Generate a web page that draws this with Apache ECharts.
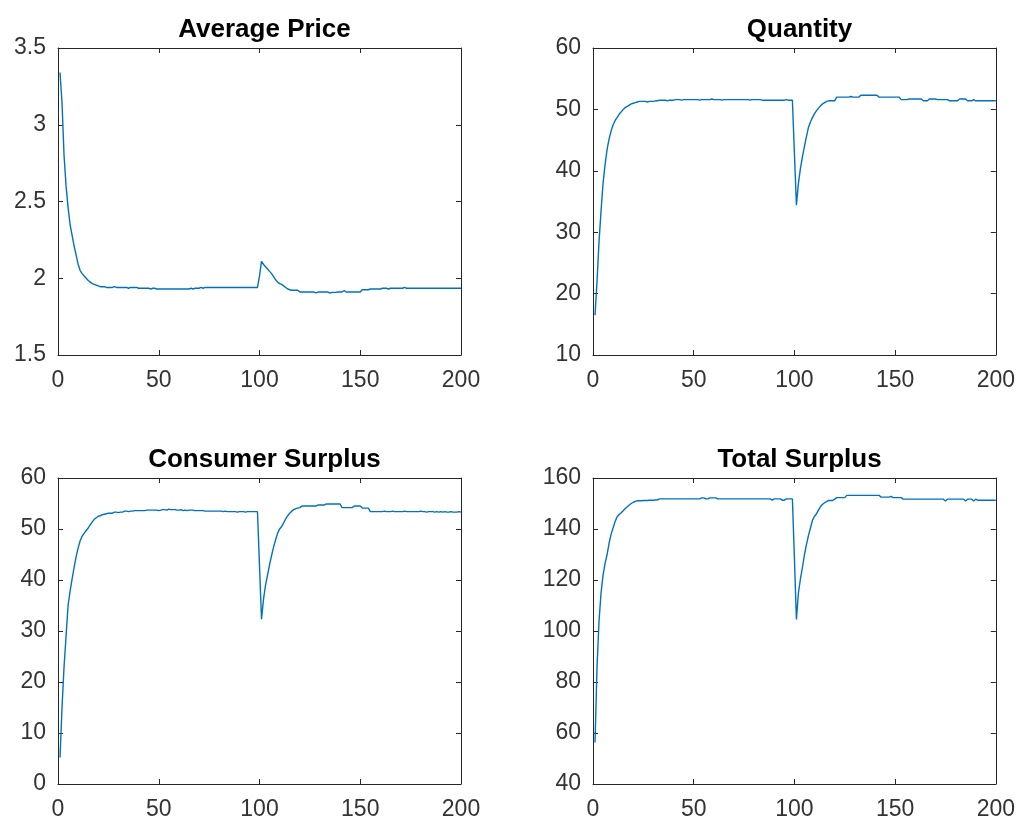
<!DOCTYPE html>
<html>
<head>
<meta charset="utf-8">
<title>Market simulation</title>
<script src="https://cdn.jsdelivr.net/npm/echarts@6.0.0/dist/echarts.min.js"></script>
<style>
  html, body { margin: 0; padding: 0; background: #ffffff; }
  #chart { width: 1018px; height: 821px; }
</style>
</head>
<body>
<div id="chart"></div>
<script>
// Simulated market outcomes over 200 periods, with a shock at period 100.
const panelTitles = ['Average Price', 'Quantity', 'Consumer Surplus', 'Total Surplus'];

const priceValues = [
  3.34, 3.14, 2.80, 2.60, 2.46, 2.35, 2.28, 2.21, 2.15, 2.09,
  2.05, 2.03, 2.015, 2.00, 1.985, 1.975, 1.965, 1.96, 1.955, 1.95,
  1.945, 1.945, 1.945, 1.94, 1.94, 1.94, 1.94, 1.945, 1.94, 1.94,
  1.94, 1.94, 1.94, 1.94, 1.935, 1.94, 1.94, 1.94, 1.94, 1.935,
  1.935, 1.935, 1.935, 1.935, 1.935, 1.93, 1.935, 1.935, 1.93, 1.93,
  1.93, 1.93, 1.93, 1.93, 1.93, 1.93, 1.93, 1.93, 1.93, 1.93,
  1.93, 1.93, 1.93, 1.93, 1.93, 1.935, 1.93, 1.935, 1.935, 1.935,
  1.94, 1.935, 1.94, 1.94, 1.94, 1.94, 1.94, 1.94, 1.94, 1.94,
  1.94, 1.94, 1.94, 1.94, 1.94, 1.94, 1.94, 1.94, 1.94, 1.94,
  1.94, 1.94, 1.94, 1.94, 1.94, 1.94, 1.94, 1.94, 1.94, 2.015,
  2.11, 2.09, 2.075, 2.06, 2.045, 2.03, 2.01, 1.99, 1.975, 1.965,
  1.96, 1.95, 1.94, 1.93, 1.925, 1.922, 1.922, 1.922, 1.922, 1.91,
  1.91, 1.91, 1.91, 1.91, 1.91, 1.91, 1.91, 1.905, 1.91, 1.91,
  1.91, 1.91, 1.91, 1.91, 1.903, 1.908, 1.908, 1.908, 1.91, 1.91,
  1.91, 1.92, 1.91, 1.91, 1.91, 1.91, 1.91, 1.91, 1.91, 1.91,
  1.925, 1.925, 1.925, 1.925, 1.93, 1.93, 1.93, 1.93, 1.93, 1.93,
  1.935, 1.935, 1.935, 1.93, 1.935, 1.935, 1.935, 1.935, 1.935, 1.935,
  1.935, 1.94, 1.935, 1.935, 1.935, 1.935, 1.935, 1.935, 1.935, 1.935,
  1.935, 1.935, 1.935, 1.935, 1.935, 1.935, 1.935, 1.935, 1.935, 1.935,
  1.935, 1.935, 1.935, 1.935, 1.935, 1.935, 1.935, 1.935, 1.935, 1.935
];

const quantityValues = [
  16.5, 22.0, 28.5, 33.5, 38.0, 41.0, 43.5, 45.2, 46.5, 47.5,
  48.2, 48.7, 49.2, 49.6, 50.0, 50.3, 50.5, 50.7, 50.9, 51.0,
  51.1, 51.2, 51.3, 51.3, 51.3, 51.3, 51.2, 51.3, 51.3, 51.3,
  51.4, 51.4, 51.5, 51.5, 51.5, 51.5, 51.4, 51.5, 51.5, 51.5,
  51.6, 51.6, 51.6, 51.5, 51.6, 51.6, 51.6, 51.6, 51.6, 51.6,
  51.6, 51.6, 51.5, 51.6, 51.6, 51.6, 51.6, 51.6, 51.7, 51.6,
  51.6, 51.6, 51.6, 51.5, 51.6, 51.6, 51.6, 51.6, 51.6, 51.6,
  51.6, 51.6, 51.6, 51.6, 51.6, 51.6, 51.6, 51.5, 51.6, 51.6,
  51.6, 51.6, 51.6, 51.5, 51.5, 51.5, 51.5, 51.5, 51.5, 51.5,
  51.5, 51.5, 51.5, 51.5, 51.5, 51.6, 51.5, 51.5, 51.5, 42.9,
  34.4, 38.0, 40.4, 42.3, 44.0, 45.6, 47.1, 48.0, 48.7, 49.3,
  49.8, 50.2, 50.6, 50.9, 51.1, 51.3, 51.4, 51.4, 51.4, 51.4,
  52.0, 52.0, 52.0, 52.0, 52.0, 52.0, 52.0, 52.1, 52.0, 52.0,
  52.0, 52.0, 52.3, 52.3, 52.3, 52.3, 52.3, 52.3, 52.3, 52.3,
  52.3, 52.0, 52.0, 52.0, 52.0, 52.0, 52.0, 52.0, 52.0, 52.0,
  52.0, 52.0, 51.6, 51.6, 51.6, 51.6, 51.7, 51.7, 51.7, 51.7,
  51.7, 51.7, 51.7, 51.4, 51.4, 51.4, 51.7, 51.7, 51.7, 51.7,
  51.6, 51.6, 51.6, 51.6, 51.6, 51.6, 51.4, 51.4, 51.4, 51.4,
  51.4, 51.7, 51.7, 51.7, 51.7, 51.4, 51.4, 51.4, 51.6, 51.4,
  51.4, 51.4, 51.4, 51.4, 51.4, 51.4, 51.4, 51.4, 51.4, 51.4
];

const consumerSurplusValues = [
  5.2, 15.0, 23.0, 29.0, 35.0, 37.8, 40.2, 42.5, 44.6, 46.3,
  47.7, 48.6, 49.2, 49.7, 50.2, 50.8, 51.4, 51.9, 52.2, 52.5,
  52.6, 52.8, 52.9, 53.0, 53.1, 53.1, 53.1, 53.3, 53.3, 53.2,
  53.3, 53.3, 53.5, 53.5, 53.4, 53.5, 53.5, 53.6, 53.6, 53.6,
  53.6, 53.6, 53.6, 53.7, 53.7, 53.7, 53.7, 53.7, 53.7, 53.6,
  53.7, 53.8, 53.8, 53.7, 53.9, 53.8, 53.8, 53.8, 53.7, 53.7,
  53.8, 53.6, 53.7, 53.6, 53.7, 53.7, 53.7, 53.6, 53.6, 53.6,
  53.6, 53.6, 53.5, 53.5, 53.5, 53.5, 53.5, 53.5, 53.5, 53.5,
  53.5, 53.4, 53.5, 53.4, 53.4, 53.4, 53.4, 53.4, 53.3, 53.4,
  53.4, 53.4, 53.3, 53.4, 53.4, 53.4, 53.4, 53.4, 53.4, 42.8,
  32.3, 36.3, 39.0, 41.0, 43.0, 44.8, 46.5, 47.9, 49.2, 50.0,
  50.5, 51.2, 52.0, 52.6, 53.1, 53.5, 53.8, 54.0, 54.1, 54.2,
  54.5, 54.5, 54.5, 54.5, 54.5, 54.5, 54.5, 54.5, 54.7, 54.7,
  54.7, 54.7, 54.9, 54.9, 54.9, 54.9, 54.9, 54.9, 54.9, 54.9,
  54.2, 54.2, 54.2, 54.2, 54.2, 54.2, 54.5, 54.5, 54.5, 54.5,
  54.1, 54.1, 54.1, 54.1, 53.4, 53.4, 53.4, 53.4, 53.4, 53.4,
  53.4, 53.5, 53.4, 53.4, 53.4, 53.5, 53.4, 53.4, 53.4, 53.4,
  53.4, 53.5, 53.4, 53.4, 53.4, 53.4, 53.4, 53.4, 53.4, 53.5,
  53.4, 53.4, 53.3, 53.4, 53.4, 53.4, 53.3, 53.4, 53.3, 53.4,
  53.3, 53.4, 53.3, 53.3, 53.4, 53.3, 53.3, 53.3, 53.4, 53.3
];

const totalSurplusValues = [
  56.3, 86.0, 104.0, 115.0, 122.0, 126.5, 130.0, 134.5, 138.0, 140.5,
  143.0, 144.8, 145.7, 146.4, 147.2, 148.0, 148.7, 149.4, 150.0, 150.5,
  150.8, 151.1, 151.1, 151.1, 151.2, 151.2, 151.2, 151.3, 151.3, 151.3,
  151.4, 151.4, 151.8, 151.8, 151.8, 151.8, 151.8, 151.8, 151.8, 151.8,
  151.8, 151.8, 151.8, 151.8, 151.8, 151.8, 151.8, 151.8, 151.8, 151.8,
  151.8, 151.8, 151.8, 152.2, 152.2, 151.8, 151.8, 152.2, 152.2, 152.2,
  152.2, 151.8, 151.8, 151.8, 151.8, 151.8, 151.8, 151.8, 151.8, 151.8,
  151.8, 151.8, 151.8, 151.8, 151.8, 151.8, 151.8, 151.8, 151.8, 151.8,
  151.8, 151.8, 151.8, 151.8, 151.8, 151.8, 151.8, 151.8, 151.3, 151.8,
  151.8, 151.8, 151.8, 151.3, 151.3, 151.8, 151.8, 151.8, 151.8, 128.6,
  104.5, 115.0, 120.5, 125.0, 130.0, 134.0, 137.5, 140.5, 143.5, 145.0,
  146.0, 147.5, 148.8, 149.7, 150.3, 150.7, 151.2, 151.2, 151.2, 151.7,
  152.3, 152.3, 152.3, 152.3, 152.3, 153.2, 153.2, 153.2, 153.2, 153.2,
  153.2, 153.2, 153.2, 153.2, 153.2, 153.2, 153.2, 153.2, 153.2, 153.2,
  153.2, 153.2, 152.5, 152.5, 152.5, 152.5, 152.5, 152.8, 152.3, 152.3,
  152.3, 152.3, 152.3, 151.7, 151.7, 151.7, 151.7, 151.7, 151.7, 151.7,
  151.7, 151.7, 151.7, 151.7, 151.7, 151.7, 151.7, 151.7, 151.7, 151.7,
  151.7, 151.7, 151.7, 151.7, 151.0, 151.7, 151.7, 151.7, 151.7, 151.7,
  151.7, 151.7, 151.7, 151.7, 151.0, 151.7, 151.7, 151.7, 151.0, 151.7,
  151.3, 151.3, 151.3, 151.3, 151.3, 151.3, 151.3, 151.3, 151.3, 151.3
];

// Shared period axis and per-panel value-axis ranges.
const periodTicks = { min: 0, max: 200, step: 50 };
const valueRanges = [
  { min: 1.5, max: 3.5, step: 0.5 },
  { min: 10, max: 60, step: 10 },
  { min: 0, max: 60, step: 10 },
  { min: 40, max: 160, step: 20 }
];

const seriesValues = [priceValues, quantityValues, consumerSurplusValues, totalSurplusValues];

const gridBoxes = [
  { left: 58, top: 48, width: 403, height: 307 },
  { left: 593, top: 48, width: 403, height: 307 },
  { left: 58, top: 478, width: 403, height: 307 },
  { left: 593, top: 478, width: 403, height: 307 }
];

const FONT = '"Liberation Sans", Arial, Helvetica, sans-serif';
const AXIS_COLOR = '#262626';
const LINE_COLOR = '#0072BD';

function frameAxis(base, showLabels) {
  return Object.assign({
    type: 'value',
    axisLine: { show: true, onZero: false, lineStyle: { color: AXIS_COLOR, width: 1 } },
    axisTick: { show: true, inside: true, length: 5, lineStyle: { color: AXIS_COLOR, width: 1 } },
    axisLabel: { show: showLabels, color: '#333333', fontSize: 23, fontFamily: FONT },
    splitLine: { show: false }
  }, base);
}

const grids = [], xAxes = [], yAxes = [], titles = [], series = [];

gridBoxes.forEach((box, i) => {
  grids.push(Object.assign({ containLabel: false }, box));

  const xBase = { gridIndex: i, min: periodTicks.min, max: periodTicks.max, interval: periodTicks.step };
  const xBottom = frameAxis(Object.assign({ position: 'bottom' }, xBase), true);
  xBottom.axisLabel.margin = 14;
  xAxes.push(xBottom);
  xAxes.push(frameAxis(Object.assign({ position: 'top' }, xBase), false));

  const r = valueRanges[i];
  const yBase = { gridIndex: i, min: r.min, max: r.max, interval: r.step };
  const yLeft = frameAxis(Object.assign({ position: 'left' }, yBase), true);
  yLeft.axisLabel.margin = 12;
  yAxes.push(yLeft);
  yAxes.push(frameAxis(Object.assign({ position: 'right' }, yBase), false));

  titles.push({
    text: panelTitles[i],
    left: box.left + box.width / 2,
    top: box.top - 36,
    textAlign: 'center',
    textStyle: { fontSize: 26, fontWeight: 'bold', color: '#000000', fontFamily: FONT }
  });

  const values = seriesValues[i];
  series.push({
    type: 'line',
    xAxisIndex: i * 2,
    yAxisIndex: i * 2,
    showSymbol: false,
    symbol: 'none',
    lineStyle: { color: LINE_COLOR, width: 1.4 },
    data: values.map((v, k) => [k + 1, v])
  });
});

const chart = echarts.init(document.getElementById('chart'), null, { renderer: 'canvas' });
chart.setOption({
  backgroundColor: '#ffffff',
  animation: false,
  title: titles,
  grid: grids,
  xAxis: xAxes,
  yAxis: yAxes,
  series: series
});
</script>
</body>
</html>
